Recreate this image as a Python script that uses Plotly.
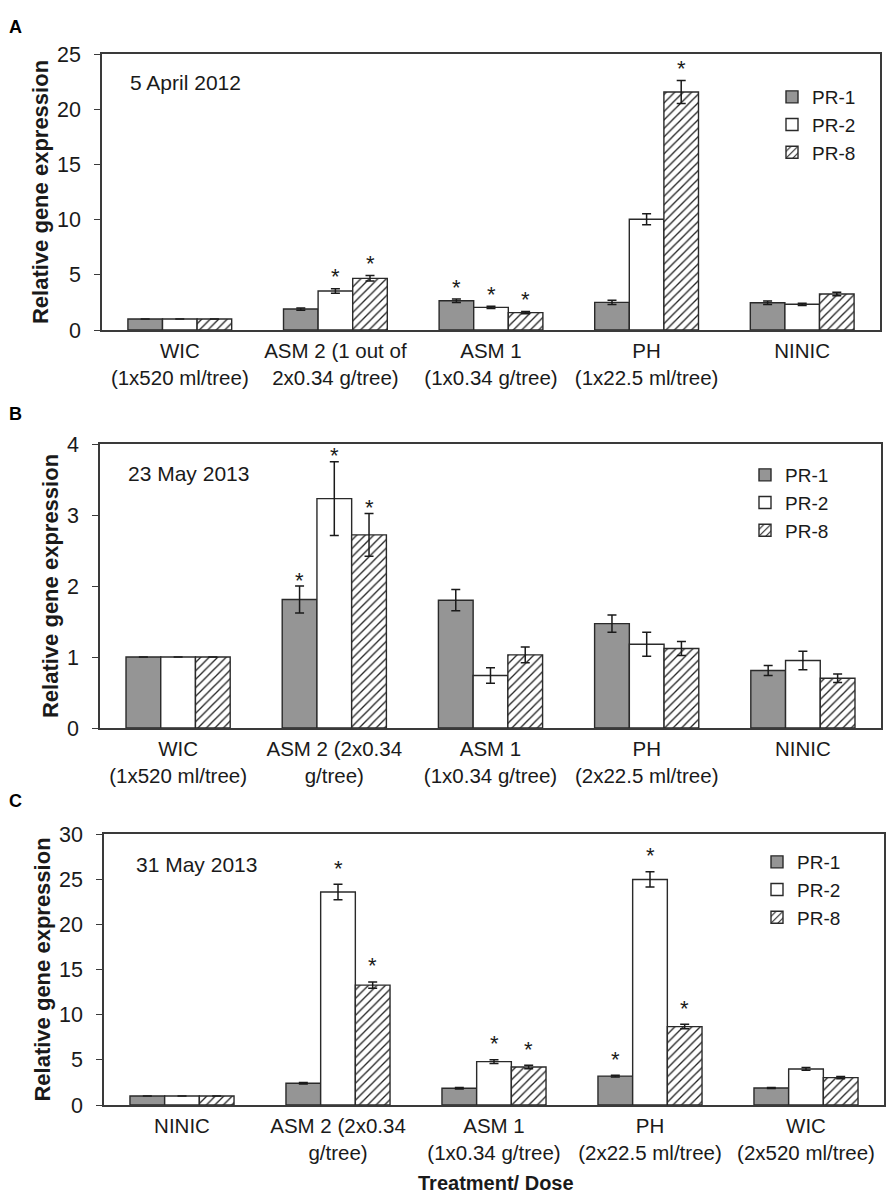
import plotly.graph_objects as go

FONT = "Arial, 'Liberation Sans', Helvetica, sans-serif"
TXT = "#1a1a1a"
AX = "#3a3a3a"

series = ["PR-1", "PR-2", "PR-8"]

# ---------------- Panel A (5 April 2012) ----------------
cats_a = ["WIC<br>(1x520 ml/tree)", "ASM 2 (1 out of<br>2x0.34 g/tree)",
          "ASM 1<br>(1x0.34 g/tree)", "PH<br>(1x22.5 ml/tree)", "NINIC"]
pr1_a = [1.0, 1.90, 2.65, 2.50, 2.47]
pr2_a = [1.0, 3.53, 2.05, 10.03, 2.33]
pr8_a = [1.0, 4.68, 1.57, 21.56, 3.26]
pr1_a_err = [None, 0.10, 0.15, 0.20, 0.15]
pr2_a_err = [None, 0.20, 0.10, 0.50, 0.10]
pr8_a_err = [None, 0.25, 0.10, 1.04, 0.15]
pr1_a_sig = [0, 0, 1, 0, 0]
pr2_a_sig = [0, 1, 1, 0, 0]
pr8_a_sig = [0, 1, 1, 1, 0]

# ---------------- Panel B (23 May 2013) ----------------
cats_b = ["WIC<br>(1x520 ml/tree)", "ASM 2 (2x0.34<br>g/tree)",
          "ASM 1<br>(1x0.34 g/tree)", "PH<br>(2x22.5 ml/tree)", "NINIC"]
pr1_b = [1.0, 1.81, 1.80, 1.47, 0.81]
pr2_b = [1.0, 3.23, 0.74, 1.18, 0.95]
pr8_b = [1.0, 2.72, 1.03, 1.12, 0.70]
pr1_b_err = [None, 0.19, 0.15, 0.12, 0.07]
pr2_b_err = [None, 0.52, 0.11, 0.17, 0.13]
pr8_b_err = [None, 0.30, 0.11, 0.10, 0.06]
pr1_b_sig = [0, 1, 0, 0, 0]
pr2_b_sig = [0, 1, 0, 0, 0]
pr8_b_sig = [0, 1, 0, 0, 0]

# ---------------- Panel C (31 May 2013) ----------------
cats_c = ["NINIC", "ASM 2 (2x0.34<br>g/tree)", "ASM 1<br>(1x0.34 g/tree)",
          "PH<br>(2x22.5 ml/tree)", "WIC<br>(2x520 ml/tree)"]
pr1_c = [1.0, 2.40, 1.85, 3.20, 1.88]
pr2_c = [1.0, 23.58, 4.80, 24.97, 3.99]
pr8_c = [1.0, 13.27, 4.21, 8.68, 3.03]
pr1_c_err = [None, 0.08, 0.08, 0.10, 0.05]
pr2_c_err = [None, 0.85, 0.20, 0.85, 0.15]
pr8_c_err = [None, 0.35, 0.20, 0.25, 0.12]
pr1_c_sig = [0, 0, 0, 1, 0]
pr2_c_sig = [0, 1, 1, 1, 0]
pr8_c_sig = [0, 1, 1, 1, 0]

dates = ["5 April 2012", "23 May 2013", "31 May 2013"]
panel_letters = ["A", "B", "C"]

W, H = 892, 1198
BARGAP = 0.333

styles = [
    dict(color="#959595", pattern=None),
    dict(color="white", pattern=None),
    dict(color="white", pattern=dict(shape="/", fgcolor="#222222", bgcolor="white",
                                     size=6, solidity=0.22)),
]

panels = [
    dict(cats=cats_a, vals=[pr1_a, pr2_a, pr8_a], errs=[pr1_a_err, pr2_a_err, pr8_a_err],
         sigs=[pr1_a_sig, pr2_a_sig, pr8_a_sig], yr=[0, 25], dt=5, stargap=17,
         px=(102, 880), py=(54, 330), legend=(772, 78), date=(128, 83), letter=27),
    dict(cats=cats_b, vals=[pr1_b, pr2_b, pr8_b], errs=[pr1_b_err, pr2_b_err, pr8_b_err],
         sigs=[pr1_b_sig, pr2_b_sig, pr8_b_sig], yr=[0, 4], dt=1, stargap=11,
         px=(100, 881), py=(444, 728), legend=(745, 456), date=(126, 473), letter=414),
    dict(cats=cats_c, vals=[pr1_c, pr2_c, pr8_c], errs=[pr1_c_err, pr2_c_err, pr8_c_err],
         sigs=[pr1_c_sig, pr2_c_sig, pr8_c_sig], yr=[0, 30], dt=5, stargap=21,
         px=(104, 884), py=(834, 1105), legend=(757, 843), date=(134, 864), letter=801),
]

fig = go.Figure()
layout = {}
annotations = []

for p_i, p in enumerate(panels):
    n = p_i + 1
    xa = "x" if n == 1 else f"x{n}"
    ya = "y" if n == 1 else f"y{n}"
    lg = "legend" if n == 1 else f"legend{n}"
    idx = list(range(len(p["cats"])))
    bw = (1 - BARGAP) / 3
    for s_i, name in enumerate(series):
        st = styles[s_i]
        marker = dict(color=st["color"], line=dict(color="#2a2a2a", width=1.4))
        if st["pattern"]:
            marker["pattern"] = st["pattern"]
        fig.add_trace(go.Bar(
            x=idx, y=p["vals"][s_i], name=name, marker=marker,
            xaxis=xa, yaxis=ya, legend=lg, showlegend=True,
            error_y=dict(type="data", array=p["errs"][s_i], visible=True,
                         color="#1a1a1a", thickness=1.5, width=4.5),
        ))
        # significance stars above the error bars
        for i in idx:
            if p["sigs"][s_i][i]:
                e = p["errs"][s_i][i] or 0
                annotations.append(dict(
                    text="*", xref=xa, yref=ya,
                    x=i - (1 - BARGAP) / 2 + (s_i + 0.5) * bw,
                    y=p["vals"][s_i][i] + e,
                    xanchor="center", yanchor="middle", yshift=p["stargap"] - 5,
                    showarrow=False, font=dict(family=FONT, size=22, color=TXT)))

    x0, x1 = p["px"]
    ytop, ybot = p["py"]
    axis_common = dict(showline=True, mirror=True, linecolor=AX, linewidth=1.5,
                       showgrid=False, zeroline=False, automargin=False)
    layout[f"xaxis{'' if n == 1 else n}"] = dict(
        domain=[x0 / W, x1 / W], anchor=ya, range=[-0.5, 4.5],
        tickmode="array", tickvals=idx, ticktext=p["cats"], ticks="",
        tickfont=dict(family=FONT, size=20.5, color=TXT), ticklabelstandoff=2,
        **axis_common,
    )
    layout[f"yaxis{'' if n == 1 else n}"] = dict(
        domain=[1 - ybot / H, 1 - ytop / H], anchor=xa, range=p["yr"], dtick=p["dt"],
        ticks="outside", ticklen=6, tickwidth=1.3, tickcolor=AX,
        tickfont=dict(family=FONT, size=21.5, color=TXT), ticklabelstandoff=9,
        title=dict(text="<b>Relative gene expression</b>", standoff=2,
                   font=dict(family=FONT, size=22, color=TXT)),
        **axis_common,
    )
    lx, ly = p["legend"]
    layout[lg] = dict(x=lx / W, y=1 - ly / H, xanchor="left", yanchor="top",
                      bgcolor="rgba(0,0,0,0)", font=dict(family=FONT, size=19, color=TXT),
                      itemclick=False, tracegroupgap=0)
    dx, dy = p["date"]
    annotations.append(dict(text=dates[p_i], x=dx / W, y=1 - dy / H, xref="paper", yref="paper",
                            xanchor="left", yanchor="middle", showarrow=False,
                            font=dict(family=FONT, size=21, color=TXT)))
    annotations.append(dict(text=f"<b>{panel_letters[p_i]}</b>", x=7 / W, y=1 - p["letter"] / H,
                            xref="paper", yref="paper", xanchor="left", yanchor="middle",
                            showarrow=False, font=dict(family=FONT, size=18, color="#000")))

annotations.append(dict(text="<b>Treatment/ Dose</b>", x=496 / W, y=1 - 1183 / H,
                        xref="paper", yref="paper", xanchor="center", yanchor="middle",
                        showarrow=False, font=dict(family=FONT, size=20, color=TXT)))

fig.update_layout(
    width=W, height=H, margin=dict(l=0, r=0, t=0, b=0),
    paper_bgcolor="white", plot_bgcolor="white",
    barmode="group", bargap=BARGAP, bargroupgap=0,
    font=dict(family=FONT, color=TXT),
    annotations=annotations, template="none",
    **layout,
)

fig.write_html("out.html", config={"displayModeBar": False},
               post_script="document.body.style.margin='0px';")
